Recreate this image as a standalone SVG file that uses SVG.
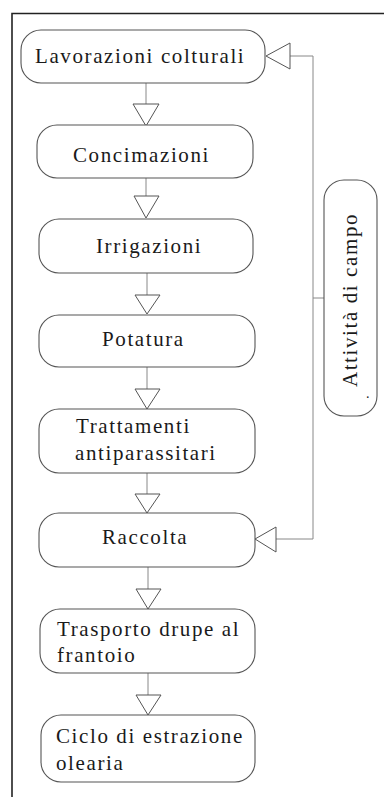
<svg xmlns="http://www.w3.org/2000/svg" width="384" height="797" viewBox="0 0 384 797">
<style>
.box{fill:#fff;stroke:#555;stroke-width:1.1}
.t{font-family:"Liberation Serif","Times New Roman",serif;font-size:21px;letter-spacing:1.6px;fill:#1a1a1a}
.c{fill:none;stroke:#888;stroke-width:1}
.h{fill:#fff;stroke:#555;stroke-width:1}
.frame{stroke:#222;stroke-width:1.6;fill:none}
</style>
<rect width="384" height="797" fill="#fff"/>
<path class="frame" d="M12,797 V13.5 H384"/>
<g id="connectors">
<line class="c" x1="146" y1="83" x2="146" y2="104"/>
<polygon class="h" points="133,104 159,104 146,126"/>
<line class="c" x1="146" y1="178" x2="146" y2="196"/>
<polygon class="h" points="134,196 159,196 146,218"/>
<line class="c" x1="147" y1="273" x2="147" y2="295"/>
<polygon class="h" points="135,295 160,295 147,314"/>
<line class="c" x1="147" y1="367" x2="147" y2="389"/>
<polygon class="h" points="135,389 160,389 147,409"/>
<line class="c" x1="147" y1="473" x2="147" y2="494"/>
<polygon class="h" points="135,494 160,494 147,513"/>
<line class="c" x1="148" y1="567" x2="148" y2="589"/>
<polygon class="h" points="136,589 161,589 148,609"/>
<line class="c" x1="148" y1="673" x2="148" y2="695"/>
<polygon class="h" points="136,695 161,695 148,715"/>
<polyline class="c" points="276,539 313,539 313,56 290,56"/>
<line class="c" x1="313" y1="298" x2="324" y2="298"/>
<polygon class="h" points="290,43 290,69 266,56"/>
<polygon class="h" points="276,527 276,552 255,539"/>
</g>
<g id="n1"><rect class="box" x="21" y="30" width="244" height="53" rx="20"/><text class="t" x="35" y="63">Lavorazioni colturali</text></g>
<g id="n2"><rect class="box" x="37" y="125" width="216" height="53" rx="20"/><text class="t" x="73" y="162">Concimazioni</text></g>
<g id="n3"><rect class="box" x="39" y="219" width="214" height="54" rx="20"/><text class="t" x="96" y="253">Irrigazioni</text></g>
<g id="n4"><rect class="box" x="39" y="315" width="216" height="52" rx="20"/><text class="t" x="102" y="346">Potatura</text></g>
<g id="n5"><rect class="box" x="39" y="409" width="216" height="64" rx="20"/><text class="t" x="76" y="433">Trattamenti</text><text class="t" x="75" y="460">antiparassitari</text></g>
<g id="n6"><rect class="box" x="39" y="513" width="216" height="54" rx="20"/><text class="t" x="102" y="544">Raccolta</text></g>
<g id="n7"><rect class="box" x="40" y="609" width="215" height="64" rx="20"/><text class="t" x="57" y="636">Trasporto drupe al</text><text class="t" x="57" y="662">frantoio</text></g>
<g id="n8"><rect class="box" x="41" y="715" width="214" height="67" rx="20"/><text class="t" x="56" y="743">Ciclo di estrazione</text><text class="t" x="56" y="770">olearia</text></g>
<g id="n9"><rect class="box" x="324" y="180" width="53" height="236" rx="20"/><text class="t" transform="translate(357,300) rotate(-90)" text-anchor="middle">Attività di campo</text><text class="t" x="366" y="398" style="font-size:14px">.</text></g>
</svg>
